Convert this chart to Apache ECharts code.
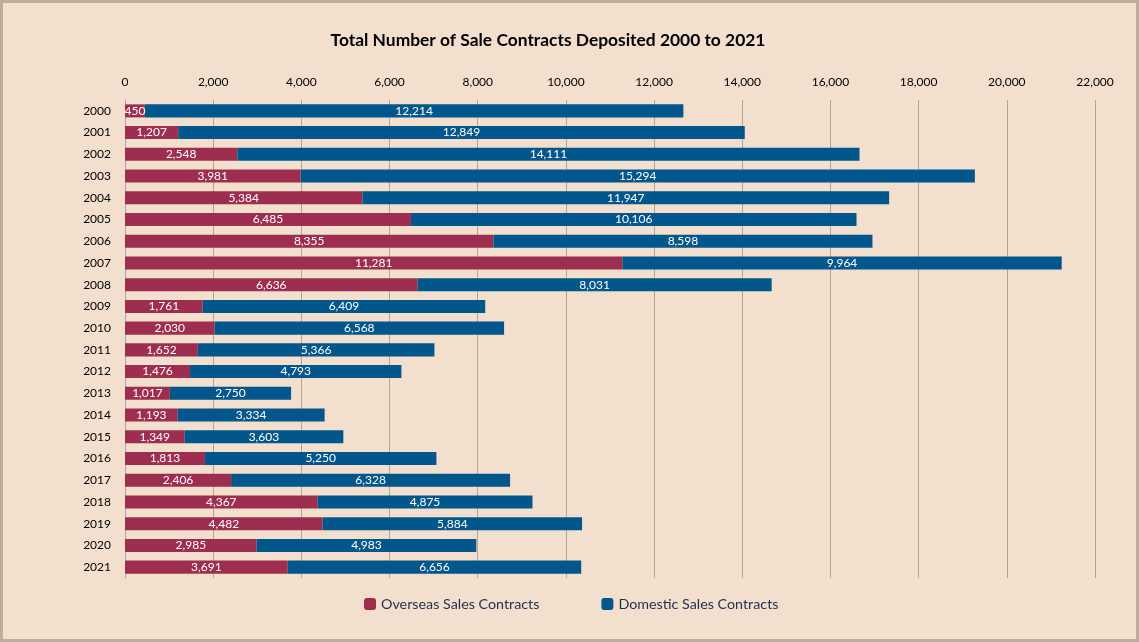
<!DOCTYPE html>
<html>
<head>
<meta charset="utf-8">
<script src="https://cdn.jsdelivr.net/npm/echarts@6/dist/echarts.min.js"></script>
<style>
    html, body { margin: 0; padding: 0; background: #f2dfce; }
    #chart { width: 1139px; height: 642px; box-sizing: border-box; border: 3px solid #bcae9c; }
</style>
</head>
<body>
<div id="chart"></div>
<script type="text/javascript">
    // years, top to bottom
    var years = ['2000','2001','2002','2003','2004','2005','2006','2007','2008','2009','2010',
                 '2011','2012','2013','2014','2015','2016','2017','2018','2019','2020','2021'];
    var overseas = [450,1207,2548,3981,5384,6485,8355,11281,6636,1761,2030,
                    1652,1476,1017,1193,1349,1813,2406,4367,4482,2985,3691];
    var domestic = [12214,12849,14111,15294,11947,10106,8598,9964,8031,6409,6568,
                    5366,4793,2750,3334,3603,5250,6328,4875,5884,4983,6656];

    var font = 'Lato, "Open Sans", sans-serif';
    var fmt = function (v) { return v.toLocaleString('en-US'); };

    var myChart = echarts.init(document.getElementById('chart'));
    myChart.setOption({
        backgroundColor: '#f2dfce',
        textStyle: { fontFamily: font },
        title: {
            text: 'Total Number of Sale Contracts Deposited 2000 to 2021',
            left: 540, top: 24, textAlign: 'center',
            textStyle: { fontSize: 17.4, fontWeight: 'bold', color: '#000', fontFamily: font }
        },
        legend: {
            data: ['Overseas Sales Contracts', 'Domestic Sales Contracts'],
            left: 356, top: 589, itemGap: 62,
            itemWidth: 12, itemHeight: 12, icon: 'roundRect',
            textStyle: { fontSize: 14.3, color: '#1f2f4f', fontFamily: font }
        },
        grid: { left: 122, right: 41, top: 97, bottom: 61 },
        xAxis: {
            type: 'value', position: 'top', min: 0, max: 22000, interval: 2000,
            axisLine: { show: false },
            axisTick: { show: false },
            axisLabel: { color: '#000', fontSize: 12, margin: 12, formatter: fmt, fontFamily: font },
            splitLine: { lineStyle: { color: '#b3a592', width: 1 } }
        },
        yAxis: {
            type: 'category', data: years, inverse: true,
            axisLine: { lineStyle: { color: '#b3a592' } },
            axisTick: { show: false },
            axisLabel: { color: '#000', fontSize: 12, margin: 14, fontFamily: font }
        },
        series: [{
            name: 'Overseas Sales Contracts', type: 'bar', stack: 'total',
            data: overseas, barWidth: '60%',
            itemStyle: { color: '#9e2e4f' },
            label: { show: true, position: 'inside', color: '#fff', fontSize: 12, formatter: function (p) { return fmt(p.value); } }
        }, {
            name: 'Domestic Sales Contracts', type: 'bar', stack: 'total',
            data: domestic, barWidth: '60%',
            itemStyle: { color: '#01578b' },
            label: { show: true, position: 'inside', color: '#fff', fontSize: 12, formatter: function (p) { return fmt(p.value); } }
        }]
    });
</script>
</body>
</html>
